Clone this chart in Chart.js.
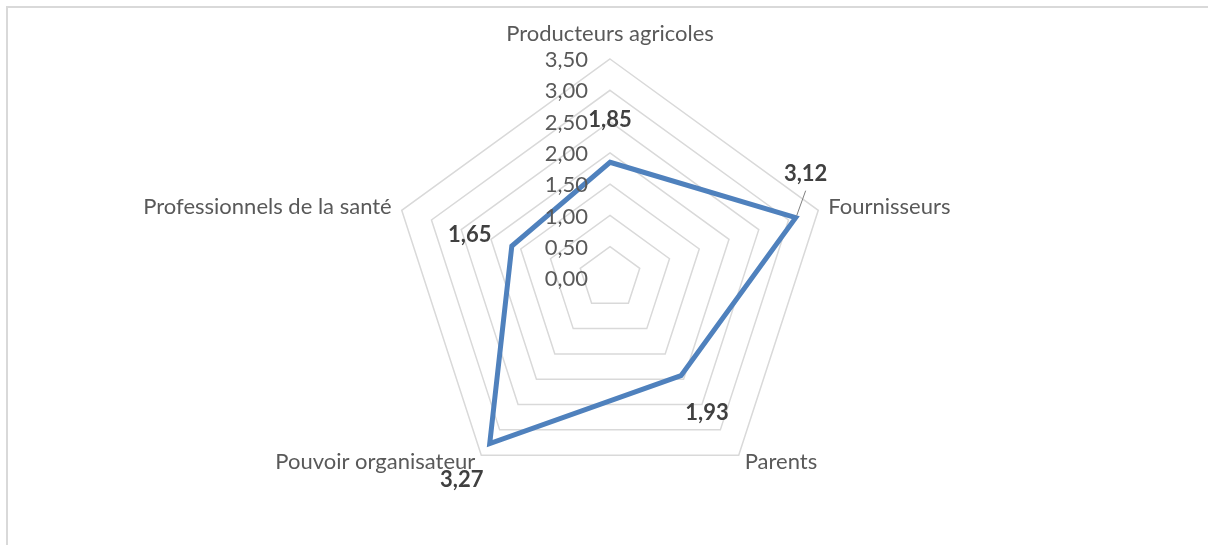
<!DOCTYPE html>
<html>
<head>
<meta charset="utf-8">
<script src="https://cdn.jsdelivr.net/npm/chart.js@4/dist/chart.umd.min.js"></script>
<style>
  html, body { margin: 0; padding: 0; background: #fff; }
  #wrap { width: 1208px; height: 545px; position: relative; }
</style>
</head>
<body>
<div id="wrap"><canvas id="radar" width="1208" height="545"></canvas></div>
<script>
var categories = ["Producteurs agricoles", "Fournisseurs", "Parents", "Pouvoir organisateur", "Professionnels de la santé"];
var scores = [1.85, 3.12, 1.93, 3.27, 1.65];
var tickValues = [0, 0.5, 1, 1.5, 2, 2.5, 3, 3.5];

var FONT = "Lato, 'Open Sans', sans-serif";
var labelColor = "#595959";

// where each score label sits relative to its point (px)
var valueOffsets = [[0, -42], [10, -44], [26, 37], [-28, 36], [-42, -11]];

function fr(v) {
      return v.toFixed(2).replace(".", ",");
}

// frame, tick labels, axis names and score labels
var excelLook = {
      id: "excelLook",
      beforeDraw: function(chart) {
            var c = chart.ctx;
            c.save();
            c.strokeStyle = "#d9d9d9";
            c.lineWidth = 2;
            c.beginPath();
            c.moveTo(7, 560);
            c.lineTo(7, 7);
            c.lineTo(1220, 7);
            c.stroke();
            c.restore();
      },
      afterDraw: function(chart) {
            var c = chart.ctx;
            var r = chart.scales.r;
            c.save();

            // tick values, right aligned left of the vertical axis
            c.font = "22px " + FONT;
            c.fillStyle = labelColor;
            c.textAlign = "right";
            c.textBaseline = "middle";
            tickValues.forEach(function(v) {
                  var d = r.getDistanceFromCenterForValue(v);
                  c.fillText(fr(v), r.xCenter - 22, r.yCenter - d + 1);
            });

            // category names around the outer ring
            var max = tickValues[tickValues.length - 1];
            categories.forEach(function(name, i) {
                  var p = r.getPointPositionForValue(i, max);
                  var x = p.x, y = p.y;
                  if (i === 0) { c.textAlign = "center"; y -= 25; }
                  else if (i === 1) { c.textAlign = "left"; x += 10; y -= 3; }
                  else if (i === 2) { c.textAlign = "left"; x += 6; y += 7; }
                  else if (i === 3) { c.textAlign = "right"; x -= 6; y += 7; }
                  else { c.textAlign = "right"; x -= 10; y -= 3; }
                  c.fillText(name, x, y);
            });

            // score labels
            var meta = chart.getDatasetMeta(0);
            c.font = "bold 22px " + FONT;
            c.fillStyle = "#404040";
            c.textAlign = "center";
            meta.data.forEach(function(pt, i) {
                  var lx = pt.x + valueOffsets[i][0];
                  var ly = pt.y + valueOffsets[i][1];
                  c.fillText(fr(scores[i]), lx, ly);
                  if (i === 1) {
                        // leader line back to the point
                        c.strokeStyle = "#7f7f7f";
                        c.lineWidth = 1;
                        c.beginPath();
                        c.moveTo(lx, ly + 17);
                        c.lineTo(pt.x + 1, pt.y - 2);
                        c.stroke();
                  }
            });
            c.restore();
      }
};

var ctx = document.getElementById("radar");
var chart = new Chart(ctx, {
      type: "radar",
      data: {
            labels: categories,
            datasets: [{
                  label: "Score",
                  data: scores,
                  fill: false,
                  borderColor: "#4f81bd",
                  borderWidth: 5,
                  borderJoinStyle: "miter",
                  pointRadius: 0,
                  pointHoverRadius: 0,
                  tension: 0
            }]
      },
      options: {
            responsive: false,
            animation: false,
            events: [],
            layout: { padding: { left: 391, right: 379, top: 59, bottom: 48 } },
            plugins: {
                  legend: { display: false },
                  tooltip: { enabled: false }
            },
            scales: {
                  r: {
                        min: 0,
                        max: 3.5,
                        ticks: { display: false, stepSize: 0.5 },
                        grid: { color: "#d9d9d9", lineWidth: 1.5 },
                        angleLines: { display: false },
                        pointLabels: { display: false }
                  }
            }
      },
      plugins: [excelLook]
});
</script>
</body>
</html>
